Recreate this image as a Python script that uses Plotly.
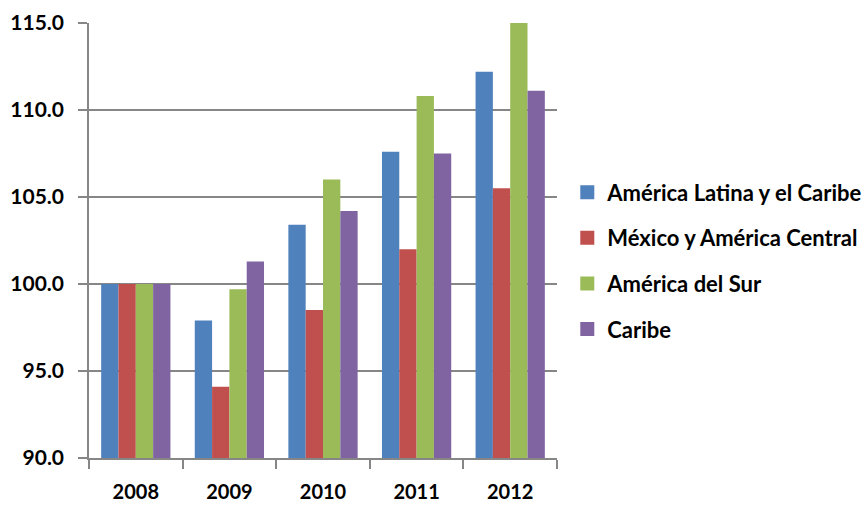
import plotly.graph_objects as go

years = ["2008", "2009", "2010", "2011", "2012"]
series_names = [
    "América Latina y el Caribe",
    "México y América Central",
    "América del Sur",
    "Caribe",
]
america_latina_caribe = [100.0, 97.9, 103.4, 107.6, 112.2]
mexico_america_central = [100.0, 94.1, 98.5, 102.0, 105.5]
america_del_sur = [100.0, 99.7, 106.0, 110.8, 115.0]
caribe = [100.0, 101.3, 104.2, 107.5, 111.1]

series_values = [america_latina_caribe, mexico_america_central, america_del_sur, caribe]
colors = ["#4F81BD", "#C0504D", "#9BBB59", "#8064A2"]

FONT = "Lato"
GRID = "#868686"

fig = go.Figure()
for i, (name, vals, col) in enumerate(zip(series_names, series_values, colors)):
    fig.add_trace(go.Bar(
        x=years, y=vals, name=name, marker=dict(color=col, line=dict(width=0)),
        legendgroup=f"g{i}", showlegend=False,
    ))
    # square legend swatch for the series
    fig.add_trace(go.Scatter(
        x=[None], y=[None], mode="markers", name=name,
        marker=dict(symbol="square", size=14, color=col),
        legendgroup=f"g{i}", showlegend=True,
    ))

fig.update_layout(
    width=863, height=506,
    margin=dict(l=89, r=306, t=23, b=48, autoexpand=False),
    paper_bgcolor="white", plot_bgcolor="white",
    barmode="group", bargap=0.26, bargroupgap=0,
    font=dict(family=FONT, color="black"),
    legend=dict(
        x=1.022, xanchor="left", y=0.453, yanchor="middle",
        font=dict(family=FONT, size=22, weight="bold", color="black"),
        traceorder="grouped", tracegroupgap=14,
        itemwidth=30, bgcolor="rgba(0,0,0,0)",
    ),
    showlegend=True,
)

fig.update_yaxes(
    range=[90, 115], dtick=5, tick0=90, tickformat=".1f",
    showgrid=True, gridcolor=GRID, gridwidth=1.5,
    showline=True, linecolor=GRID, linewidth=1.5,
    ticks="outside", ticklen=9, tickcolor=GRID, tickwidth=1.5,
    ticklabelstandoff=10, automargin=False,
    tickfont=dict(family=FONT, size=21, weight="bold", color="black"),
    zeroline=False,
)
fig.update_xaxes(
    type="category", tickson="boundaries",
    showline=True, linecolor=GRID, linewidth=1.5,
    ticks="outside", ticklen=9, tickcolor=GRID, tickwidth=1.5,
    ticklabelstandoff=15, automargin=False,
    tickfont=dict(family=FONT, size=20, weight="bold", color="black"),
    showgrid=False,
)

fig.write_html("out.html")
